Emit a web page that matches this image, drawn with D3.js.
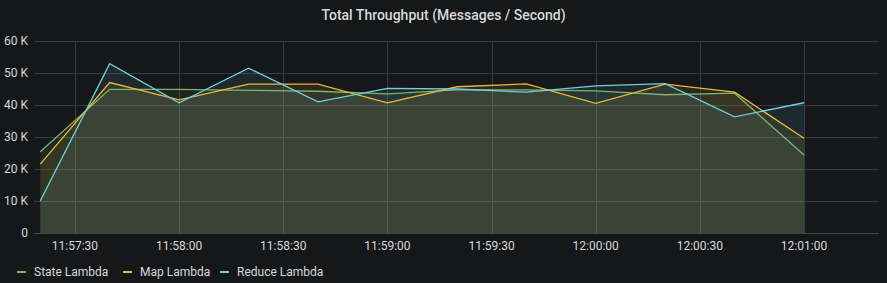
<!DOCTYPE html>
<html>
<head>
<meta charset="utf-8">
<script src="https://cdn.jsdelivr.net/npm/d3@7"></script>
<style>
  html, body { margin: 0; padding: 0; background: #161719; }
  svg { display: block; font-family: Roboto, "Noto Sans", sans-serif; }
</style>
</head>
<body>
<svg id="mainsvg" width="887" height="283"></svg>
<script>
// sample times, every 20 s
const times = ["11:57:20", "11:57:40", "11:58:00", "11:58:20", "11:58:40", "11:59:00",
               "11:59:20", "11:59:40", "12:00:00", "12:00:20", "12:00:40", "12:01:00"];
const stateLambda  = [25400, 44900, 44900, 44600, 44300, 43500, 44700, 44700, 44400, 43200, 43700, 24400];
const mapLambda    = [21500, 47000, 41600, 46500, 46500, 40700, 45700, 46600, 40500, 46500, 44000, 29600];
const reduceLambda = [10000, 52900, 40700, 51500, 41000, 45200, 45000, 44000, 46000, 46700, 36300, 40700];
const seriesNames  = ["State Lambda", "Map Lambda", "Reduce Lambda"];
const seriesColors = ["#7eb26d", "#eab839", "#6ed0e0"];
const yTicks = [0, 10000, 20000, 30000, 40000, 50000, 60000];
const xTickLabels = ["11:57:30", "11:58:00", "11:58:30", "11:59:00", "11:59:30", "12:00:00", "12:00:30", "12:01:00"];

let svg = d3.select('#mainsvg');
const parse = s => { const p = s.split(':').map(Number); return new Date(2020, 0, 1, p[0], p[1], p[2]); };

const x = d3.scaleTime()
  .domain([new Date(2020, 0, 1, 11, 57, 18, 200), new Date(2020, 0, 1, 12, 1, 21, 600)])
  .range([34, 879]);
const y = d3.scaleLinear().domain([0, 60000]).range([233, 41]);

const series = [stateLambda, mapLambda, reduceLambda].map((vals, i) => ({
  name: seriesNames[i], color: seriesColors[i],
  values: vals.map((v, j) => ({ t: parse(times[j]), v: v }))
}));

// title
svg.append('text')
  .attr('x', 443.5).attr('y', 20)
  .attr('text-anchor', 'middle')
  .attr('fill', '#d8d9da')
  .attr('font-size', 14).attr('font-weight', 500)
  .text('Total Throughput (Messages / Second)');

// grid
const grid = svg.append('g');
grid.selectAll('line.h').data(yTicks).enter().append('line')
  .attr('x1', 34).attr('x2', 879)
  .attr('y1', d => y(d) + 0.5).attr('y2', d => y(d) + 0.5)
  .attr('stroke', d => d === 0 ? '#444547' : '#3a3b3d').attr('stroke-width', 1);
grid.selectAll('line.v').data(xTickLabels).enter().append('line')
  .attr('x1', d => Math.round(x(parse(d))) + 0.5).attr('x2', d => Math.round(x(parse(d))) + 0.5)
  .attr('y1', 41).attr('y2', 233)
  .attr('stroke', '#3a3b3d').attr('stroke-width', 1);

// areas then lines
const area = d3.area().x(d => x(d.t)).y0(y(0)).y1(d => y(d.v));
const line = d3.line().x(d => x(d.t)).y(d => y(d.v));

svg.append('g').selectAll('path').data(series).enter().append('path')
  .attr('d', d => area(d.values))
  .attr('fill', d => d.color).attr('fill-opacity', 0.1);

svg.append('g').selectAll('path').data(series).enter().append('path')
  .attr('d', d => line(d.values))
  .attr('fill', 'none').attr('stroke', d => d.color).attr('stroke-width', 1.3);

// y axis labels
svg.append('g').selectAll('text').data(yTicks).enter().append('text')
  .attr('x', 28).attr('y', d => y(d) + 4)
  .attr('text-anchor', 'end')
  .attr('fill', '#d8d9da').attr('font-size', 12)
  .text(d => d === 0 ? '0' : (d / 1000) + ' K');

// x axis labels
svg.append('g').selectAll('text').data(xTickLabels).enter().append('text')
  .attr('x', d => x(parse(d))).attr('y', 250)
  .attr('text-anchor', 'middle')
  .attr('fill', '#d8d9da').attr('font-size', 12)
  .text(d => d);

// legend
const legendX = [17, 123, 220];
const legend = svg.append('g').selectAll('g').data(series).enter().append('g')
  .attr('transform', (d, i) => `translate(${legendX[i]},272)`);
legend.append('line')
  .attr('x1', 0).attr('x2', 9).attr('y1', 0).attr('y2', 0)
  .attr('stroke', d => d.color).attr('stroke-width', 2);
legend.append('text')
  .attr('x', 17).attr('y', 4)
  .attr('fill', '#d8d9da').attr('font-size', 12)
  .text(d => d.name);
</script>
</body>
</html>
